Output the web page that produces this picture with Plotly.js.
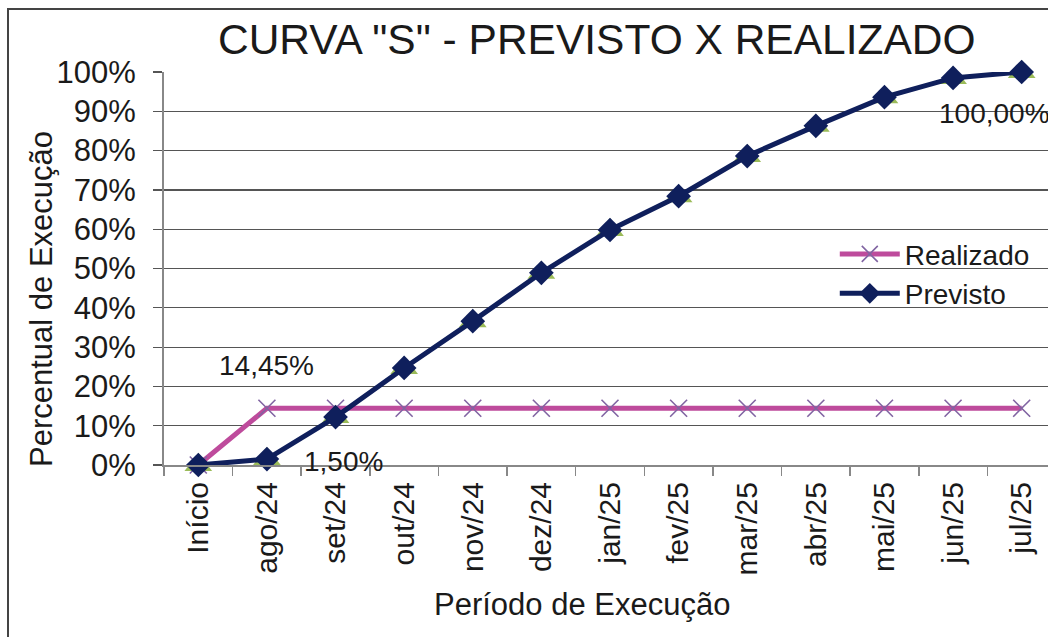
<!DOCTYPE html>
<html>
<head>
<meta charset="utf-8">
<script src="https://cdn.plot.ly/plotly-3.0.1.min.js"></script>
<style>
html,body{margin:0;padding:0;overflow:hidden;background:#fff;width:1048px;height:637px;}
#frame{position:absolute;left:7px;top:8px;width:1200px;height:800px;border:2px solid #444;pointer-events:none;}
#chart{position:absolute;left:0;top:0;}
</style>
</head>
<body>
<div id="chart"></div>
<div id="frame"></div>
<script>
const categories = ["Início","ago/24","set/24","out/24","nov/24","dez/24","jan/25","fev/25","mar/25","abr/25","mai/25","jun/25","jul/25"];
const realizado = [0,14.45,14.45,14.45,14.45,14.45,14.45,14.45,14.45,14.45,14.45,14.45,14.45];
const previsto = [0,1.50,12.2,24.7,36.6,48.9,59.8,68.4,78.6,86.3,93.6,98.5,100.00];
const previstoBase = [0,1.50,12.2,24.7,36.6,48.9,59.8,68.4,78.6,86.3,93.6,98.5,100.00];
const yTicks = [0,10,20,30,40,50,60,70,80,90,100];
const yTickText = yTicks.map(v => v + "%");

const FONT = "Liberation Sans, Arial, Helvetica, sans-serif";
const TXT = "#1a1a1a";

const traces = [
  {x: categories, y: previstoBase, type: "scatter", mode: "markers", name: "Base",
   showlegend: false, hoverinfo: "skip", cliponaxis: false,
   marker: {symbol: "triangle-up", size: 24, color: "#9bbb59"}},
  {x: categories, y: realizado, type: "scatter", mode: "lines+markers", name: "Realizado",
   legendgroup: "r", cliponaxis: false,
   line: {color: "#be4b9c", width: 5},
   marker: {symbol: "x-thin-open", size: 17, line: {color: "#8064a2", width: 1.6}, color: "#8064a2"}},
  {x: categories, y: previsto, type: "scatter", mode: "lines+markers", name: "Previsto",
   legendgroup: "p", cliponaxis: false,
   line: {color: "#0f1f5c", width: 5},
   marker: {symbol: "diamond", size: 19, color: "#0f1f5c"}}
];

const layout = {
  width: 1060, height: 637,
  margin: {l: 164, r: 4, t: 72, b: 172},
  paper_bgcolor: "#fff", plot_bgcolor: "#fff",
  font: {family: FONT, color: TXT},
  showlegend: true,
  title: {text: 'CURVA "S" - PREVISTO X REALIZADO', font: {size: 42.5, family: FONT, color: TXT},
          xref: "container", x: 0.563, xanchor: "center", yref: "container", y: 0.939, yanchor: "middle"},
  xaxis: {
    type: "category", tickson: "boundaries", ticks: "outside", ticklen: 9, tickwidth: 1.5, tickcolor: "#888",
    showline: true, linecolor: "#888", linewidth: 2, showgrid: false, zeroline: false,
    tickangle: -90, tickfont: {size: 30, family: FONT, color: TXT}, ticklabelstandoff: 3,
    range: [-0.5, 12.5], fixedrange: true
  },
  yaxis: {
    range: [0, 100], tickvals: yTicks, ticktext: yTickText,
    ticks: "outside", ticklen: 9, tickwidth: 1.2, tickcolor: "#555",
    showline: true, linecolor: "#888", linewidth: 2,
    showgrid: true, gridcolor: "#555", gridwidth: 1.2, zeroline: false,
    tickfont: {size: 31, family: FONT, color: TXT}, ticklabelstandoff: 11, fixedrange: true
  },
  legend: {
    x: 0.752, xanchor: "left", y: 0.6, yanchor: "top",
    bgcolor: "rgba(255,255,255,0)", borderwidth: 0,
    font: {size: 28, family: FONT, color: TXT},
    itemwidth: 60, tracegroupgap: 10, traceorder: "normal"
  },
  annotations: [
    {x: "ago/24", y: 14.45, xref: "x", yref: "y", text: "14,45%", showarrow: false,
     xshift: 0, yshift: 43, font: {size: 28, family: FONT, color: TXT}},
    {x: "ago/24", y: 1.50, xref: "x", yref: "y", text: "1,50%", showarrow: false,
     xshift: 77, yshift: -2, font: {size: 28, family: FONT, color: TXT}},
    {x: "jul/25", y: 100, xref: "x", yref: "y", text: "100,00%", showarrow: false,
     xshift: -27, yshift: -41, font: {size: 28, family: FONT, color: TXT}},
    {x: 0.4686, y: -0.356, xref: "paper", yref: "paper", text: "Período de Execução", showarrow: false,
     xanchor: "center", yanchor: "middle", font: {size: 31, family: FONT, color: TXT}},
    {x: -0.1368, y: 0.4224, xref: "paper", yref: "paper", text: "Percentual de Execução", showarrow: false,
     textangle: -90, xanchor: "center", yanchor: "middle", font: {size: 31, family: FONT, color: TXT}}
  ]
};

Plotly.newPlot("chart", traces, layout, {displayModeBar: false, staticPlot: true});
</script>
</body>
</html>
